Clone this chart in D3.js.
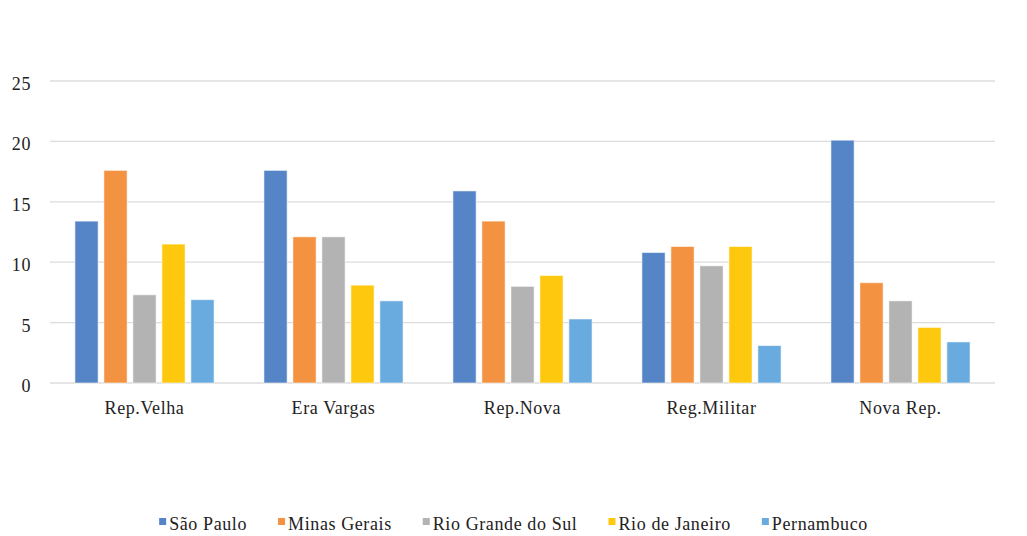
<!DOCTYPE html>
<html>
<head>
<meta charset="utf-8">
<script src="https://cdn.jsdelivr.net/npm/d3@7"></script>
<style>
    body { margin: 0; background: #fff; }
</style>
</head>
<body>
<div id="chart"></div>
<script>
var periods = ['Rep.Velha', 'Era Vargas', 'Rep.Nova', 'Reg.Militar', 'Nova Rep.'];
var states = ['São Paulo', 'Minas Gerais', 'Rio Grande do Sul', 'Rio de Janeiro', 'Pernambuco'];
var state_colors = ['#5585c6', '#f39240', '#b3b3b3', '#fec80e', '#6aabdf'];

var sao_paulo = [13.4, 17.6, 15.9, 10.8, 20.1];
var minas_gerais = [17.6, 12.1, 13.4, 11.3, 8.3];
var rio_grande_do_sul = [7.3, 12.1, 8.0, 9.7, 6.8];
var rio_de_janeiro = [11.5, 8.1, 8.9, 11.3, 4.6];
var pernambuco = [6.9, 6.8, 5.3, 3.1, 3.4];

var y_ticks = [0, 5, 10, 15, 20, 25];

var series = [sao_paulo, minas_gerais, rio_grande_do_sul, rio_de_janeiro, pernambuco];

var font = "'Liberation Serif', 'Times New Roman', Times, serif";

var width = 1027, height = 536;
var margin = {top: 81, right: 32, bottom: 153, left: 50};

var svg = d3.select('#chart').append('svg')
    .attr('width', width)
    .attr('height', height)
    .attr('font-family', font);

var x0 = d3.scaleBand()
    .domain(periods)
    .range([margin.left, width - margin.right]);

var x1 = d3.scaleBand()
    .domain(states)
    .range([0, x0.bandwidth()])
    .paddingInner(0.2)
    .paddingOuter(0.86);

var y = d3.scaleLinear()
    .domain([0, 25])
    .range([height - margin.bottom, margin.top]);

// gridlines
svg.append('g')
    .selectAll('line')
    .data(y_ticks)
    .enter().append('line')
    .attr('x1', margin.left)
    .attr('x2', width - margin.right)
    .attr('y1', function(d) { return y(d); })
    .attr('y2', function(d) { return y(d); })
    .attr('stroke', '#dcdcdc')
    .attr('stroke-width', 1.3);

// y labels
svg.append('g')
    .selectAll('text')
    .data(y_ticks)
    .enter().append('text')
    .attr('x', 31)
    .attr('y', function(d) { return y(d) + 9; })
    .attr('text-anchor', 'end')
    .attr('fill', '#222')
    .style('font-family', font)
    .style('font-size', '18px')
    .style('letter-spacing', '0.6px')
    .text(function(d) { return d; });

// bars
var groups = svg.append('g')
    .selectAll('g')
    .data(periods)
    .enter().append('g')
    .attr('transform', function(d) { return 'translate(' + x0(d) + ',0)'; });

groups.selectAll('rect')
    .data(function(d, i) {
        return states.map(function(s, j) { return {state: s, value: series[j][i], k: j}; });
    })
    .enter().append('rect')
    .attr('x', function(d) { return x1(d.state); })
    .attr('width', x1.bandwidth())
    .attr('y', function(d) { return y(d.value); })
    .attr('height', function(d) { return y(0) - y(d.value); })
    .attr('fill', function(d) { return state_colors[d.k]; })
    .attr('stroke', '#ffffff')
    .attr('stroke-opacity', 0.55)
    .attr('stroke-width', 1);

// category labels
svg.append('g')
    .selectAll('text')
    .data(periods)
    .enter().append('text')
    .attr('x', function(d) { return x0(d) + x0.bandwidth() / 2; })
    .attr('y', 414)
    .attr('text-anchor', 'middle')
    .attr('fill', '#222')
    .style('font-family', font)
    .style('font-size', '18px')
    .style('letter-spacing', '0.6px')
    .text(function(d) { return d; });

// legend
var legend = svg.append('g');
var items = legend.selectAll('g')
    .data(states)
    .enter().append('g');

items.append('rect')
    .attr('width', 7)
    .attr('height', 7)
    .attr('y', 518)
    .attr('fill', function(d, i) { return state_colors[i]; });

items.append('text')
    .attr('x', 10)
    .attr('y', 530)
    .attr('fill', '#222')
    .style('font-family', font)
    .style('font-size', '18px')
    .style('letter-spacing', '0.6px')
    .text(function(d) { return d; });

var offsets = [], pos = 0;
items.each(function() {
    offsets.push(pos);
    pos += this.getBBox().width + 31;
});
var total = pos - 31;
var start = width / 2 - total / 2;
items.attr('transform', function(d, i) { return 'translate(' + (start + offsets[i]) + ',0)'; });
</script>
</body>
</html>
